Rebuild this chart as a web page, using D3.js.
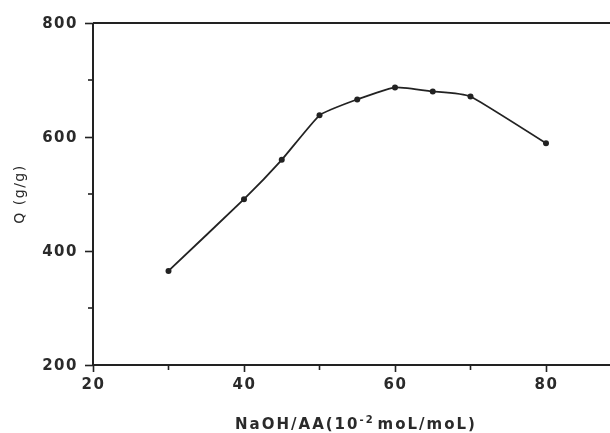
<!DOCTYPE html>
<html>
<head>
<meta charset="utf-8">
<script src="https://cdn.jsdelivr.net/npm/d3@7/dist/d3.min.js"></script>
<style>
  html, body { margin: 0; padding: 0; background: #fff; }
  svg { display: block; }
  .tick-label { font-family: "DejaVu Sans", sans-serif; font-weight: bold; fill: #2a2a2a; }
</style>
</head>
<body>
<svg id="chart" width="610" height="433"></svg>
<script>
// NaOH/AA molar ratio (x 10^-2) and absorbency Q (g/g)
const ratio = [30, 40, 45, 50, 55, 60, 65, 70, 80];
const absorbency = [365, 491, 560, 638, 666, 687, 680, 671, 589];

const xMajorTicks = [20, 40, 60, 80];
const xMinorTicks = [30, 50, 70];
const yMajorTicks = [200, 400, 600, 800];
const yMinorTicks = [300, 500, 700];

const xTitle = "NaOH/AA(10";
const xTitleSup = "-2";
const xTitleTail = "moL/moL)";
const yTitle = "Q (g/g)";

const svg = d3.select("#chart");
const ink = "#222";

const x = d3.scaleLinear().domain([20, 90]).range([93, 621.5]);
const y = d3.scaleLinear().domain([200, 800]).range([365, 23]);

// soft scanned look
const defs = svg.append("defs");
defs.append("filter").attr("id", "soft")
  .attr("x", "-5%").attr("y", "-5%").attr("width", "110%").attr("height", "110%")
  .append("feGaussianBlur").attr("stdDeviation", 0.55);

const g = svg.append("g").attr("filter", "url(#soft)");

// frame: top border
g.append("line")
  .attr("x1", x(20)).attr("x2", 610)
  .attr("y1", y(800)).attr("y2", y(800))
  .attr("stroke", ink).attr("stroke-width", 2);

// bottom axis
const xAxis = d3.axisBottom(x).tickValues(xMajorTicks).tickSize(7).tickPadding(6)
  .tickFormat(d3.format("d"));
const gx = g.append("g").attr("transform", `translate(0,${y(200)})`).call(xAxis);
gx.select(".domain").attr("stroke", ink).attr("stroke-width", 2).attr("d", `M${x(20)},0H610`);
gx.selectAll(".tick line").attr("stroke", ink).attr("stroke-width", 1.6);
gx.selectAll(".tick text").attr("class", "tick-label").attr("font-size", 15)
  .style("letter-spacing", "1.5px");
gx.selectAll(".minor").data(xMinorTicks).enter().append("line")
  .attr("x1", d => x(d)).attr("x2", d => x(d))
  .attr("y1", 0).attr("y2", 5)
  .attr("stroke", ink).attr("stroke-width", 1.6);

// left axis
const yAxis = d3.axisLeft(y).tickValues(yMajorTicks).tickSize(8).tickPadding(7)
  .tickFormat(d3.format("d"));
const gy = g.append("g").attr("transform", `translate(${x(20)},0)`).call(yAxis);
gy.select(".domain").attr("stroke", ink).attr("stroke-width", 2)
  .attr("d", `M0,${y(800)}V${y(200)}`);
gy.selectAll(".tick line").attr("stroke", ink).attr("stroke-width", 1.6);
gy.selectAll(".tick text").attr("class", "tick-label").attr("font-size", 15)
  .style("letter-spacing", "1.5px");
gy.selectAll(".minor").data(yMinorTicks).enter().append("line")
  .attr("x1", -5).attr("x2", 0)
  .attr("y1", d => y(d)).attr("y2", d => y(d))
  .attr("stroke", ink).attr("stroke-width", 1.6);

// curve
const pts = ratio.map((r, i) => [r, absorbency[i]]);
const line = d3.line().x(d => x(d[0])).y(d => y(d[1])).curve(d3.curveCardinal.tension(0.6));
g.append("path").datum(pts)
  .attr("d", line)
  .attr("fill", "none").attr("stroke", ink).attr("stroke-width", 1.8);

// markers
g.selectAll(".pt").data(pts).enter().append("circle")
  .attr("cx", d => x(d[0])).attr("cy", d => y(d[1]))
  .attr("r", 3).attr("fill", ink);

// axis titles
const xt = g.append("text")
  .attr("x", 356).attr("y", 429)
  .attr("text-anchor", "middle")
  .attr("class", "tick-label")
  .attr("font-size", 15)
  .style("letter-spacing", "2px");
xt.append("tspan").text(xTitle);
xt.append("tspan").attr("dy", -6).attr("font-size", 10).text(xTitleSup);
xt.append("tspan").attr("dy", 6).attr("dx", 3).text(xTitleTail);

g.append("text")
  .attr("transform", `translate(24,194) rotate(-90)`)
  .attr("text-anchor", "middle")
  .attr("font-family", "DejaVu Sans, sans-serif")
  .attr("font-size", 14)
  .attr("fill", "#2a2a2a")
  .style("letter-spacing", "1.5px")
  .text(yTitle);
</script>
</body>
</html>
